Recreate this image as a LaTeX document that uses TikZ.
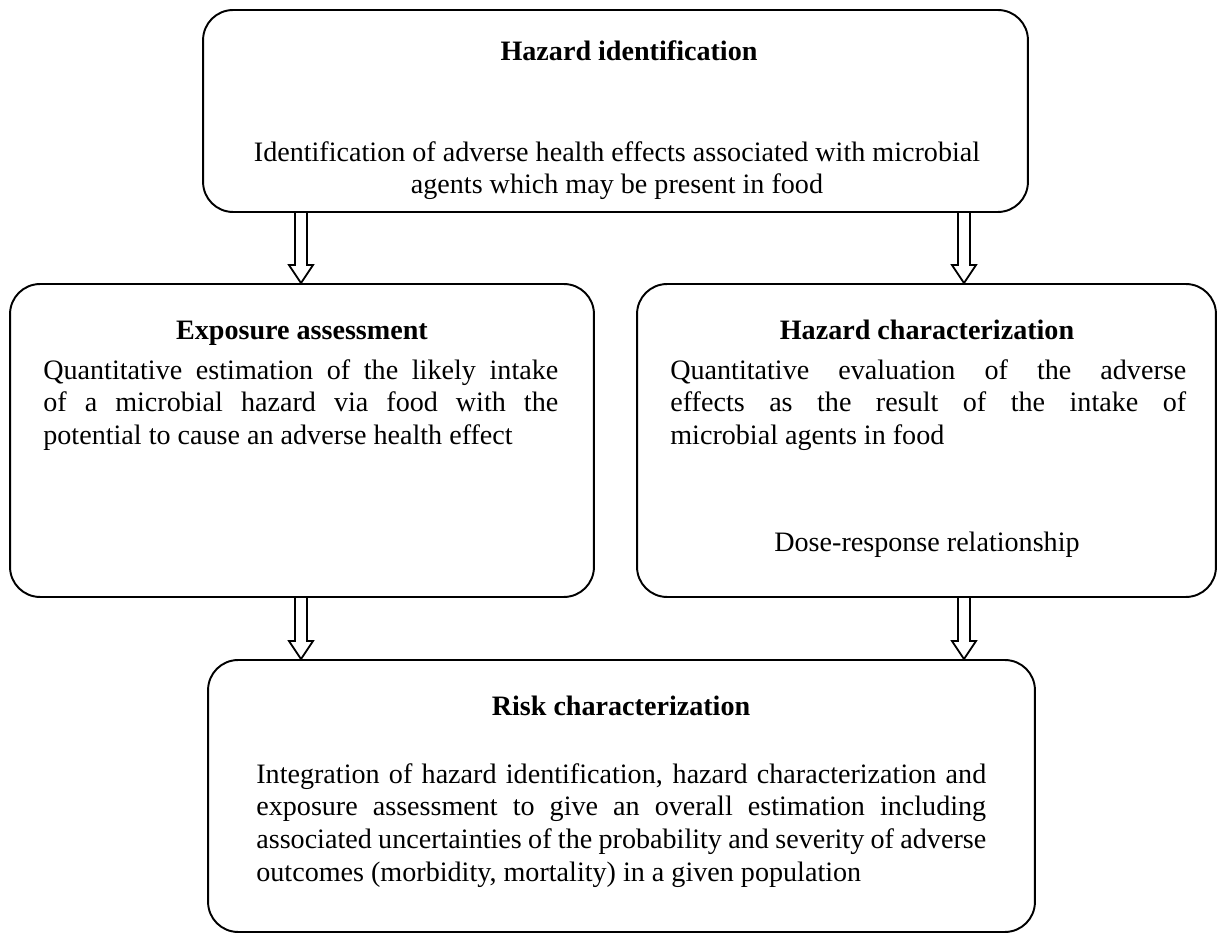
\documentclass[tikz,border=0pt]{standalone}
\usepackage{fontspec}
\setmainfont{Liberation Serif}
\usetikzlibrary{calc}
\usetikzlibrary{positioning}
\hyphenpenalty=10000
\tikzset{stagebox/.style={draw, line width=1.1pt, rounded corners=0.6cm}}
\tikzset{stagetitle/.style={font=\fontsize{16}{18.6}\selectfont\bfseries, inner sep=0pt, anchor=base}}
\tikzset{stagetext/.style={font=\fontsize{16}{18.6}\selectfont, inner sep=0pt, align=justify, anchor=north west}}
\tikzset{hollow/.style={line width=1pt, to path={let \p1=(\tikztostart), \p2=(\tikztotarget) in
  (\x1-0.12cm,\y1) -- (\x1-0.12cm,\y2+0.36cm) -- (\x1-0.24cm,\y2+0.36cm) -- (\x1,\y2)
  -- (\x1+0.24cm,\y2+0.36cm) -- (\x1+0.12cm,\y2+0.36cm) -- (\x1+0.12cm,\y1)}}}

\begin{document}
\begin{tikzpicture}[x=0.02cm,y=-0.02cm]
  \useasboundingbox (0,0) rectangle (1218,935);

  % the four stages
  \node[stagebox, minimum width=16.5cm, minimum height=4.04cm] (hid) at (615.5,111) {};
  \node[stagebox, minimum width=11.68cm, minimum height=6.26cm] (exp) at (302,440.5) {};
  \node[stagebox, minimum width=11.58cm, minimum height=6.26cm] (hch) at (926.5,440.5) {};
  \node[stagebox, minimum width=16.54cm, minimum height=5.44cm] (risk) at (621.5,796) {};

  \node[stagetitle] (hidtitle) at (629,61) {Hazard identification};
  \node[stagetext, align=center, anchor=north] (hidtext) at (617,141)
    {Identification of adverse health effects associated with microbial\\ agents which may be present in food};

  \node[stagetitle] (exptitle) at (302,340) {Exposure assessment};
  \node[stagetext, text width=10.3cm] (exptext) at (43,359)
    {Quantitative estimation of the likely intake\linebreak of a microbial hazard via food with the\linebreak potential to cause an adverse health effect};

  \node[stagetitle] (hchtitle) at (927,340) {Hazard characterization};
  \node[stagetext, text width=10.32cm] (hchtext) at (670,359)
    {Quantitative evaluation of the adverse\linebreak effects as the result of the intake of\linebreak microbial agents in food};
  \node[stagetext, anchor=center] (hchdose) at (927,545) {Dose-response relationship};

  \node[stagetitle] (risktitle) at (621,716) {Risk characterization};
  \node[stagetext, text width=14.6cm] (risktext) at (256,763)
    {Integration of hazard identification, hazard characterization and\linebreak exposure assessment to give an overall estimation including\linebreak associated uncertainties of the probability and severity of adverse\linebreak outcomes (morbidity, mortality) in a given population};

  % hollow arrows
  \coordinate (lx) at (301,0);
  \coordinate (rx) at (964,0);
  \draw[hollow] (hid.south -| lx) to (exp.north -| lx);
  \draw[hollow] (hid.south -| rx) to (hch.north -| rx);
  \draw[hollow] (exp.south -| lx) to (risk.north -| lx);
  \draw[hollow] (hch.south -| rx) to (risk.north -| rx);
\end{tikzpicture}
\end{document}
